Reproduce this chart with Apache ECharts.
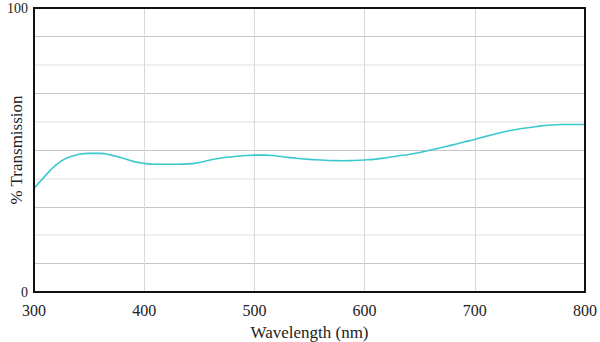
<!DOCTYPE html>
<html>
<head>
<meta charset="utf-8">
<script src="https://cdn.jsdelivr.net/npm/echarts@6/dist/echarts.min.js"></script>
<style>
  html, body { margin: 0; padding: 0; background: #fff; }
  #chart { width: 600px; height: 342px; }
</style>
</head>
<body>
<div id="chart"></div>
<script>
  // wavelength (nm) and % transmission
  var wavelength = [300, 310, 320, 330, 340, 350, 360, 370, 380, 390,
                    400, 410, 420, 430, 440, 450, 460, 470, 480, 490,
                    500, 510, 520, 530, 540, 550, 560, 570, 580, 590,
                    600, 610, 620, 630, 640, 650, 660, 670, 680, 690,
                    700, 710, 720, 730, 740, 750, 760, 770, 780, 790, 800];
  var transmission = [36.5, 40.8, 44.8, 47.2, 48.4, 48.8, 48.8, 48.2, 47.2, 46.0,
                      45.3, 45.0, 45.0, 45.0, 45.1, 45.6, 46.5, 47.2, 47.6, 48.0,
                      48.2, 48.2, 47.9, 47.4, 47.0, 46.7, 46.5, 46.3, 46.2, 46.3,
                      46.5, 46.8, 47.3, 47.9, 48.4, 49.1, 50.0, 50.9, 51.8, 52.8,
                      53.7, 54.8, 55.8, 56.7, 57.4, 57.9, 58.5, 58.8, 59.0, 59.0, 59.0];
  var xTicks = [300, 400, 500, 600, 700, 800];
  var yLabels = [0, 100];

  var font = '"Liberation Serif", "DejaVu Serif", serif';
  var chart = echarts.init(document.getElementById('chart'), null, { renderer: 'svg' });

  chart.setOption({
    animation: false,
    grid: {
      left: 34, right: 15, top: 8, bottom: 50,
      containLabel: false, outerBoundsMode: 'none',
      show: true, borderColor: '#111', borderWidth: 2, backgroundColor: 'transparent', z: 3
    },
    xAxis: {
      type: 'value',
      min: 300, max: 800, interval: 100,
      name: 'Wavelength (nm)',
      nameLocation: 'middle',
      nameGap: 32,
      nameMoveOverlap: false,
      nameTextStyle: { color: '#222', fontSize: 17, fontFamily: font },
      axisLine: { show: false },
      axisTick: { show: false },
      splitLine: { lineStyle: { color: '#d9d9d9', width: 1 } },
      axisLabel: {
        color: '#222', fontSize: 16, fontFamily: font, margin: 10,
        formatter: function (v) { return xTicks.indexOf(v) >= 0 ? String(v) : ''; }
      }
    },
    yAxis: [{
      type: 'value',
      min: 0, max: 100, interval: 10,
      name: '% Transmission',
      nameLocation: 'middle',
      nameGap: 9,
      nameRotate: 90,
      nameMoveOverlap: false,
      nameTextStyle: { color: '#222', fontSize: 17, fontFamily: font },
      axisLine: { show: false },
      axisTick: { show: false },
      splitLine: { lineStyle: { color: ['transparent', '#c6c6c6'], width: 1 } },
      axisLabel: {
        color: '#222', fontSize: 14, fontFamily: font, margin: 6,
        formatter: function (v) { return yLabels.indexOf(v) >= 0 ? String(v) : ''; }
      }
    }, {
      type: 'value',
      min: 0, max: 100, interval: 20,
      position: 'left',
      axisLine: { show: false },
      axisTick: { show: false },
      axisLabel: { show: false },
      splitLine: { lineStyle: { color: '#efefef', width: 2 } }
    }],
    series: [{
      type: 'line',
      data: wavelength.map(function (w, i) { return [w, transmission[i]]; }),
      smooth: true,
      showSymbol: false,
      lineStyle: { color: '#3cc8cc', width: 1.6 },
      z: 2
    }]
  });
</script>
</body>
</html>
